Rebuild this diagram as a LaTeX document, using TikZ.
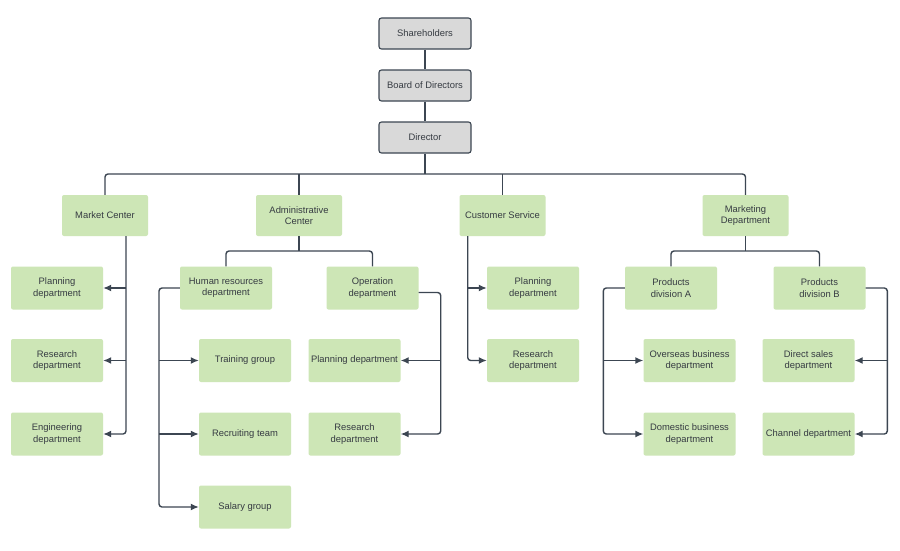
\documentclass[tikz,border=0pt]{standalone}
\usepackage{fontspec}
\setmainfont{Liberation Sans}
\usetikzlibrary{arrows.meta}
\definecolor{boxgreen}{HTML}{CDE6B6}
\definecolor{boxgray}{HTML}{D9D9D9}
\definecolor{linecol}{HTML}{3C4652}
\definecolor{txtcol}{HTML}{363B42}
\tikzset{
  graybox/.style={draw=linecol, line width=1.1pt, fill=boxgray, rounded corners=2.5pt,
    minimum width=92pt, minimum height=31pt, inner sep=1pt, align=center,
    font=\fontsize{9.4}{11.3}\selectfont, text=txtcol},
  topbox/.style={fill=boxgreen, rounded corners=2pt, minimum width=86pt, minimum height=41pt,
    inner sep=1pt, align=center, font=\fontsize{9.4}{11.3}\selectfont, text=txtcol},
  subbox/.style={fill=boxgreen, rounded corners=2pt, minimum width=92pt, minimum height=43pt,
    inner sep=1pt, align=center, font=\fontsize{9.4}{11.3}\selectfont, text=txtcol},
  conn/.style={draw=linecol, line width=1.4pt, rounded corners=3pt},
  arr/.style={conn, -{Latex[length=8pt,width=7pt]}},
}
\begin{document}
\begin{tikzpicture}[x=1pt,y=-1pt]
\useasboundingbox[fill=white] (0,0) rectangle (900,550);
% top
\node[graybox] (sh)  at (425,33.5)  {Shareholders};
\node[graybox] (bd)  at (425,85.5)  {Board of Directors};
\node[graybox] (dir) at (425,137.5) {Director};
% level 2
\node[topbox] (mc)  at (105,215.5)   {Market Center};
\node[topbox] (ac)  at (299,215.5)   {Administrative\\Center};
\node[topbox] (cs)  at (502.5,215.5) {Customer Service};
\node[topbox] (mkt) at (745.5,215.5) {Marketing\\Department};
% market center
\node[subbox] (mp) at (57,288)   {Planning\\department};
\node[subbox] (mr) at (57,360.5) {Research\\department};
\node[subbox] (me) at (57,434)   {Engineering\\department};
% admin
\node[subbox] (hr) at (226,288)   {Human resources\\department};
\node[subbox] (op) at (372.5,288) {Operation\\department};
\node[subbox] (tg) at (245,360.5) {Training group};
\node[subbox] (rt) at (245,434)   {Recruiting team};
\node[subbox] (sg) at (245,507)   {Salary group};
\node[subbox] (opp) at (354.5,360.5) {Planning department};
\node[subbox] (opr) at (354.5,434)   {Research\\department};
% customer service
\node[subbox] (csp) at (533,288)   {Planning\\department};
\node[subbox] (csr) at (533,360.5) {Research\\department};
% marketing
\node[subbox] (pa)  at (671,288)     {Products\\division A};
\node[subbox] (pb)  at (819.5,288)   {Products\\division B};
\node[subbox] (ov)  at (689.5,360.5) {Overseas business\\department};
\node[subbox] (dom) at (689.5,434)   {Domestic business\\department};
\node[subbox] (ds)  at (808.5,360.5) {Direct sales\\department};
\node[subbox] (ch)  at (808.5,434)   {Channel department};

% top chain
\draw[conn] (sh) -- (bd);
\draw[conn] (bd) -- (dir);
\coordinate (bus) at (425,174);
\draw[conn] (dir) -- (bus);
\draw[conn] (mc.north) |- (bus) -| (mkt.north);
\draw[conn] (ac.north) -- (ac.north |- bus);
\draw[conn] (cs.north) -- (cs.north |- bus);

% market center children
\coordinate (mct) at ([xshift=21pt]mc.south);
\draw[arr] (mct) |- (me.east);
\draw[arr] (mct |- mp.east) -- (mp.east);
\draw[arr] (mct |- mr.east) -- (mr.east);

% admin children
\coordinate (acj) at (299,251);
\draw[conn] (ac.south) -- (acj);
\draw[conn] (hr.north) |- (acj) -| (op.north);

% HR children
\coordinate (hrt) at (159,288);
\draw[arr] (hr.west) -- (hrt) |- (sg.west);
\draw[arr] (hrt |- tg.west) -- (tg.west);
\draw[arr] (hrt |- rt.west) -- (rt.west);

% operation children
\coordinate (ops) at ([yshift=-4.5pt]op.east);
\coordinate (opt) at (440.7,292.5);
\draw[arr] (ops) -- (opt) |- (opr.east);
\draw[arr] (opt |- opp.east) -- (opp.east);

% customer service children
\coordinate (cst) at ([xshift=-34.8pt]cs.south);
\draw[arr] (cst) |- (csr.west);
\draw[arr] (cst |- csp.west) -- (csp.west);

% marketing children
\coordinate (mkj) at (745.5,251);
\draw[conn] (mkt.south) -- (mkj);
\draw[conn] (pa.north) |- (mkj) -| (pb.north);

% products A
\coordinate (pat) at (603.3,288);
\draw[arr] (pa.west) -- (pat) |- (dom.west);
\draw[arr] (pat |- ov.west) -- (ov.west);

% products B
\coordinate (pbt) at (887.3,288);
\draw[arr] (pb.east) -- (pbt) |- (ch.east);
\draw[arr] (pbt |- ds.east) -- (ds.east);
\end{tikzpicture}
\end{document}
